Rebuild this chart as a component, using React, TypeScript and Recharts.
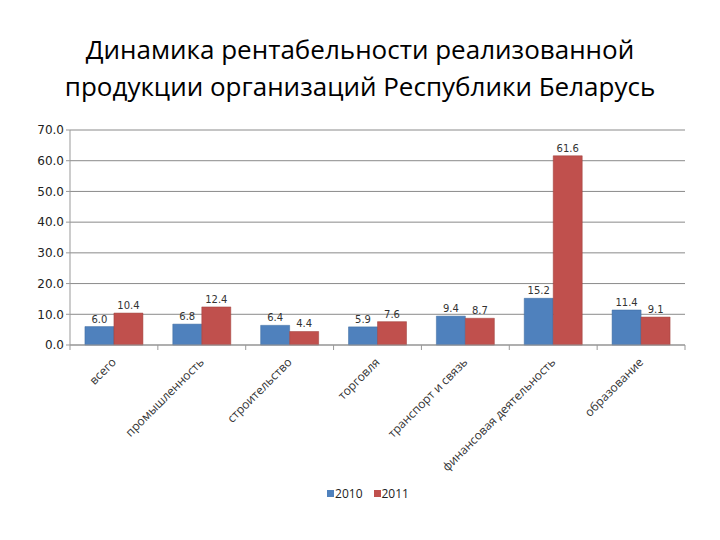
import React from 'react';
import { BarChart, Bar, XAxis, YAxis, CartesianGrid, Legend, LabelList } from 'recharts';

const categories = [
  'всего',
  'промышленность',
  'строительство',
  'торговля',
  'транспорт и связь',
  'финансовая деятельность',
  'образование',
];
const values2010 = [6.0, 6.8, 6.4, 5.9, 9.4, 15.2, 11.4];
const values2011 = [10.4, 12.4, 4.4, 7.6, 8.7, 61.6, 9.1];
const yTicks = [0, 10, 20, 30, 40, 50, 60, 70];

const data = categories.map((name, i) => ({ name, y2010: values2010[i], y2011: values2011[i] }));

const FONT = '"DejaVu Sans", sans-serif';
const LABEL_FONT = '"Open Sans", sans-serif';

// label plus a tick mark on the right boundary of each category (Excel style)
const CategoryTick = (props: any) => {
  const { x, y, payload, index } = props;
  const half = payload.offset || 0;
  return (
    <g>
      {index === 0 && <line x1={x - half} y1={y} x2={x - half} y2={y + 5} stroke="#999" />}
      <line x1={x + half} y1={y} x2={x + half} y2={y + 5} stroke="#999" />
      <g transform={`translate(${x + 3},${y + 18}) rotate(-45)`}>
        <text x={0} y={0} textAnchor="end" fontSize={12} fill="#333" fontFamily={LABEL_FONT}>
          {payload.value}
        </text>
      </g>
    </g>
  );
};

const LegendContent = (props: any) => {
  const { payload = [] } = props;
  return (
    <div style={{ display: 'flex', justifyContent: 'center', alignItems: 'center', fontFamily: LABEL_FONT, fontSize: 12, color: '#222' }}>
      {payload.map((p: any, i: number) => (
        <span key={i} style={{ display: 'inline-flex', alignItems: 'center', marginRight: i < payload.length - 1 ? 11 : 0 }}>
          <span style={{ display: 'inline-block', width: 7, height: 7, background: p.color, marginRight: 1 }} />
          {p.value}
        </span>
      ))}
    </div>
  );
};

export default function App() {
  return (
    <div style={{ position: 'absolute', left: 0, top: 0, width: 720, height: 540, background: '#fff' }}>
      <div
        style={{
          position: 'absolute',
          top: 31,
          left: 0,
          width: 720,
          textAlign: 'center',
          fontFamily: LABEL_FONT,
          fontSize: 26,
          lineHeight: '37px',
          color: '#000',
        }}
      >
        Динамика рентабельности реализованной
        <br />
        продукции организаций Республики Беларусь
      </div>
      <BarChart
        width={720}
        height={540}
        data={data}
        style={{ position: 'absolute', left: 0, top: 0 }}
        margin={{ top: 130, right: 35, left: 30, bottom: 38 }}
        barCategoryGap="17%"
        barGap={0}
      >
        <CartesianGrid vertical={false} stroke="#8a8a8a" />
        <XAxis
          dataKey="name"
          height={140}
          axisLine={{ stroke: '#999' }}
          tickLine={false}
          tickSize={0}
          tickMargin={0}
          interval={0}
          tick={<CategoryTick />}
        />
        <YAxis
          width={40}
          domain={[0, 70]}
          ticks={yTicks}
          tickFormatter={(v: number) => v.toFixed(1)}
          tick={{ fontSize: 12, fill: '#222', fontFamily: FONT }}
          axisLine={{ stroke: '#999' }}
          tickLine={{ stroke: '#999' }}
          tickSize={4}
        />
        <Legend
          verticalAlign="bottom"
          content={<LegendContent />}
          wrapperStyle={{ left: 0, width: 736 }}
        />
        <Bar dataKey="y2010" name="2010" fill="#4F81BD" stroke="#3d6a9e" strokeWidth={0.5} isAnimationActive={false}>
          <LabelList
            dataKey="y2010"
            position="top"
            offset={4}
            formatter={(v: number) => v.toFixed(1)}
            style={{ fontSize: 10, fill: '#333', fontFamily: FONT }}
          />
        </Bar>
        <Bar dataKey="y2011" name="2011" fill="#C0504D" stroke="#9c3e3b" strokeWidth={0.5} isAnimationActive={false}>
          <LabelList
            dataKey="y2011"
            position="top"
            offset={4}
            formatter={(v: number) => v.toFixed(1)}
            style={{ fontSize: 10, fill: '#333', fontFamily: FONT }}
          />
        </Bar>
      </BarChart>
    </div>
  );
}
